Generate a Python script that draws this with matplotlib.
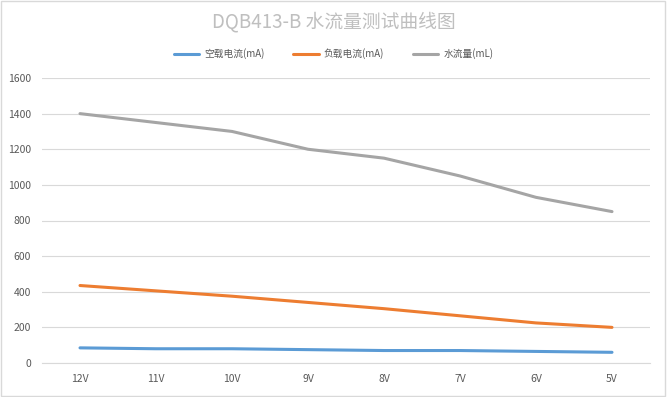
import matplotlib.pyplot as plt
from matplotlib.patches import Rectangle

plt.rcParams['font.family'] = ['Noto Sans CJK SC', 'DejaVu Sans']

voltages = ['12V', '11V', '10V', '9V', '8V', '7V', '6V', '5V']
idle_current = [85, 80, 80, 75, 70, 70, 65, 60]
load_current = [435, 405, 375, 340, 305, 265, 225, 200]
water_flow = [1400, 1350, 1300, 1200, 1150, 1050, 930, 850]
series_names = ['空载电流(mA)', '负载电流(mA)', '水流量(mL)']
colors = ['#5b9bd5', '#ed7d31', '#a5a5a5']

fig = plt.figure(figsize=(6.67, 3.97), dpi=100)
ax = fig.add_axes([42 / 667, 1 - 363 / 397, (650 - 42) / 667, (363 - 78) / 397])

x = range(len(voltages))
for vals, name, c in zip([idle_current, load_current, water_flow], series_names, colors):
    ax.plot(x, vals, color=c, lw=2.2, label=name, solid_capstyle='round')

ax.set_xlim(-0.5, len(voltages) - 0.5)
ax.set_ylim(0, 1600)
ax.set_yticks(range(0, 1601, 200))
ax.set_xticks(list(x))
ax.set_xticklabels(voltages)
ax.grid(axis='y', color='#d9d9d9', lw=0.8)
ax.set_axisbelow(True)
for s in ['top', 'right', 'left']:
    ax.spines[s].set_visible(False)
ax.spines['bottom'].set_color('#d9d9d9')
ax.tick_params(length=0, labelsize=7.5, colors='#595959', pad=8)

fig.text(0.5, 1 - 22 / 397, 'DQB413-B 水流量测试曲线图', ha='center', va='center',
         fontsize=13.5, color='#bfbfbf')
fig.legend(loc='center', bbox_to_anchor=(0.5, 1 - 54 / 397), ncol=3, frameon=False,
           fontsize=7, handlelength=2.6, handletextpad=0.5, columnspacing=3,
           labelcolor='#595959')

fig.add_artist(Rectangle((0.002, 0.003), 0.995, 0.994, transform=fig.transFigure,
                         fill=False, edgecolor='#d9d9d9', lw=1))

fig.savefig('out.png', dpi=100)
